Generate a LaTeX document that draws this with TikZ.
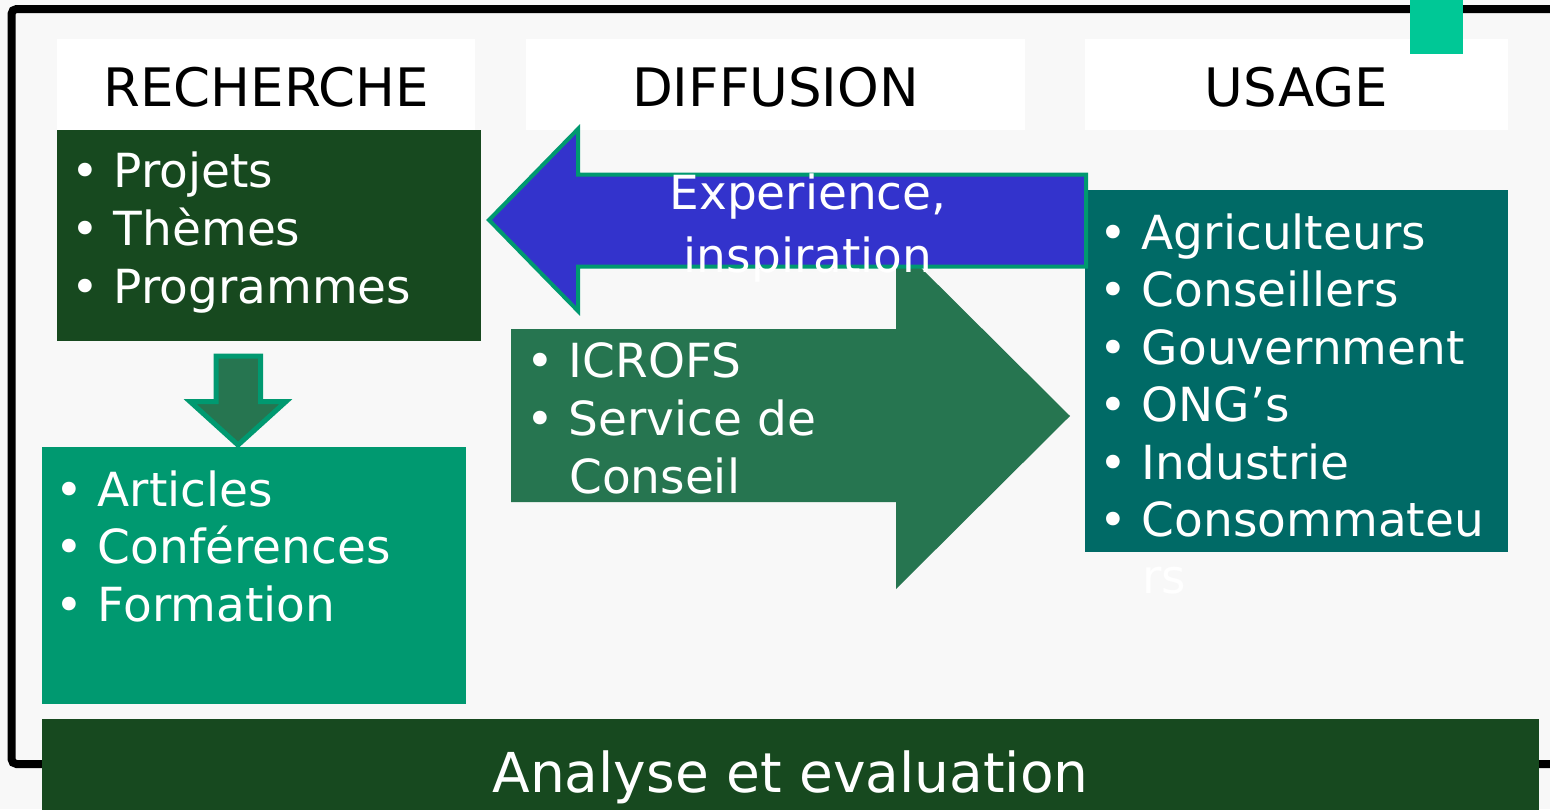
\documentclass[tikz,border=0pt]{standalone}
\usepackage{fontspec}
\setmainfont{DejaVu Sans}
\usepackage{xcolor}

\definecolor{bgrey}{HTML}{F8F8F8}
\definecolor{darkgreen}{HTML}{17491F}
\definecolor{midgreen}{HTML}{267550}
\definecolor{jade}{HTML}{009970}
\definecolor{deepteal}{HTML}{006A66}
\definecolor{mint}{HTML}{00C896}
\definecolor{arrowblue}{HTML}{3333CC}

\tikzset{
  box/.style={inner sep=0pt, outer sep=0pt, anchor=north west},
  header/.style={box, fill=white, minimum height=91pt, text=black,
    text height=44pt, text depth=0pt, font=\fontsize{53}{60}\selectfont},
  item/.style={anchor=base west, inner sep=0pt, text=white,
    font=\fontsize{47}{56}\selectfont},
  arrowtext/.style={anchor=base, inner sep=0pt, text=white,
    font=\fontsize{47}{56}\selectfont},
}

\begin{document}
\begin{tikzpicture}[x=1pt,y=-1pt]
        \useasboundingbox (0,0) rectangle (1550,809);
        \clip (0,0) rectangle (1550,809);
        \fill[bgrey] (0,0) rectangle (1550,809);

        % frame
        \draw[line width=8pt, rounded corners=5pt] (1570,9) -- (11.5,9) -- (11.5,764) -- (1570,764);

        % headers
        \node[header, minimum width=418pt] (recherche) at (57,39) {RECHERCHE};
        \node[header, minimum width=499pt] (diffusion) at (526,39) {DIFFUSION};
        \node[header, minimum width=423pt] (usage) at (1085,39) {USAGE};
        \fill[mint] (1410,0) rectangle (1463,54);

        % boxes
        \node[box, fill=darkgreen, minimum width=424pt, minimum height=211pt] (projets) at (57,130) {};
        \draw[fill=midgreen, draw=jade, line width=5pt] (216,356) -- (260.5,356) -- (260.5,401.5) -- (286,401.5)
          -- (238,445) -- (190,401.5) -- (216,401.5) -- cycle;
        \node[box, fill=jade, minimum width=424pt, minimum height=257pt] (articles) at (42,447) {};
        \fill[midgreen] (511,329) -- (896,329) -- (896,243) -- (1070,416) -- (896,589) -- (896,502) -- (511,502) -- cycle;
        \node[box, fill=deepteal, minimum width=423pt, minimum height=362pt] (acteurs) at (1085,190) {};
        \draw[fill=arrowblue, draw=jade, line width=4pt] (489,220) -- (578,129) -- (578,174.5) -- (1086,174.5)
          -- (1086,266.5) -- (578,266.5) -- (578,311) -- cycle;

        % texts
        \node[arrowtext] (experience) at (808,209) {Experience,};
        \node[arrowtext] (inspiration) at (808,272) {inspiration};

        \foreach \word [count=\i from 0] in {Projets, Thèmes, Programmes}
          \node[item] (rech-\i) at (71,{187+58*\i}) {•\ \word};
        \foreach \word [count=\i from 0] in {Articles, Conférences, Formation}
          \node[item] (art-\i) at (55,{506+57.5*\i}) {•\ \word};
        \foreach \word [count=\i from 0] in {ICROFS, Service de}
          \node[item] (diff-\i) at (526,{377+58*\i}) {•\ \word};
        \node[item] (diff-2) at (569,493) {Conseil};
        \foreach \word [count=\i from 0] in {Agriculteurs, Conseillers, Gouvernment, ONG’s, Industrie, Consommateu}
          \node[item] (usage-\i) at (1099,{249+57.5*\i}) {•\ \word};
        \node[item] (usage-6) at (1142,593) {rs};

        % bottom bar
        \node[box, fill=darkgreen, minimum width=1497pt, minimum height=100pt] (bar) at (42,719) {};
        \node[anchor=base, inner sep=0pt, text=white, font=\fontsize{55}{60}\selectfont] (analyse) at (790.5,792) {Analyse et evaluation};
      \end{tikzpicture}
\end{document}
